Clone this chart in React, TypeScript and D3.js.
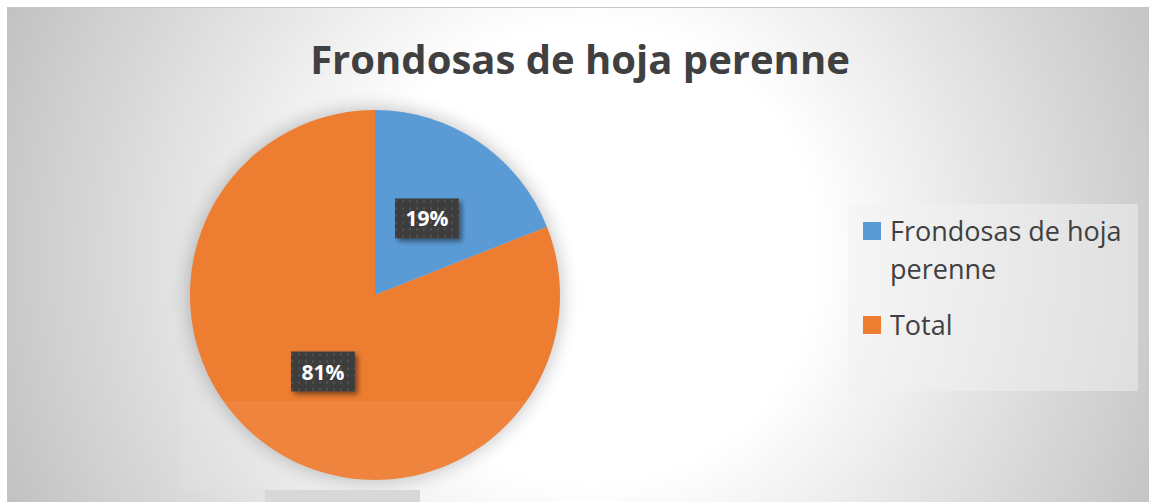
import React, { useEffect, useRef } from "react";
import * as d3 from "d3";

// chart data
const categories = ["Frondosas de hoja perenne", "Total"];
const values = [19, 81];
const legendLines = [["Frondosas de hoja", "perenne"], ["Total"]];
const colors = ["#5b9bd5", "#ed7d31"];
const title = "Frondosas de hoja perenne";

const App = () => {
    const svgRef = useRef<SVGSVGElement>(null);
    const width = 1149;
    const height = 502;

    useEffect(() => {
        const svg = d3.select(svgRef.current);
        svg.selectAll("*").remove();

        const defs = svg.append("defs");

        // radial background, white around the middle
        const grad = defs
            .append("radialGradient")
            .attr("id", "bg")
            .attr("gradientUnits", "userSpaceOnUse")
            .attr("cx", 590)
            .attr("cy", 254)
            .attr("r", 650);
        grad.append("stop").attr("offset", "0").attr("stop-color", "#ffffff");
        grad.append("stop").attr("offset", "0.35").attr("stop-color", "#ffffff");
        grad.append("stop").attr("offset", "1").attr("stop-color", "#bfbfbf");

        // soft shadow for the pie
        const blur = defs.append("filter").attr("id", "pieShadow")
            .attr("x", "-30%").attr("y", "-30%").attr("width", "160%").attr("height", "160%");
        blur.append("feGaussianBlur").attr("stdDeviation", 9);

        const lblShadow = defs.append("filter").attr("id", "lblShadow")
            .attr("x", "-30%").attr("y", "-30%").attr("width", "160%").attr("height", "160%");
        lblShadow.append("feDropShadow")
            .attr("dx", 3).attr("dy", 3).attr("stdDeviation", 2.5)
            .attr("flood-color", "#000").attr("flood-opacity", 0.45);

        // dotted texture for the data labels
        const pat = defs.append("pattern").attr("id", "dots")
            .attr("patternUnits", "userSpaceOnUse").attr("width", 7).attr("height", 7);
        pat.append("rect").attr("width", 7).attr("height", 7).attr("fill", "#3d3d3d");
        pat.append("rect").attr("x", 3).attr("y", 3).attr("width", 2).attr("height", 2).attr("fill", "#535353");

        // chart area
        svg.append("rect")
            .attr("x", 7.5).attr("y", 7.5)
            .attr("width", width).attr("height", height)
            .attr("fill", "url(#bg)")
            .attr("stroke", "#c4c4c4");

        // title
        svg.append("text")
            .attr("x", 580).attr("y", 74)
            .attr("text-anchor", "middle")
            .style("font-family", "'Open Sans', sans-serif")
            .style("font-weight", 700)
            .style("font-size", "40px")
            .style("fill", "#404040")
            .text(title);

        // pie
        const cx = 375, cy = 295, radius = 185;
        const pie = d3.pie<number>().sort(null)(values);
        const arc = d3.arc<d3.PieArcDatum<number>>().innerRadius(0).outerRadius(radius);

        const g = svg.append("g").attr("transform", `translate(${cx},${cy})`);

        g.append("circle")
            .attr("r", radius + 2)
            .attr("fill", "#000")
            .attr("opacity", 0.22)
            .attr("filter", "url(#pieShadow)");

        g.selectAll("path.slice")
            .data(pie)
            .enter()
            .append("path")
            .attr("class", "slice")
            .attr("d", arc)
            .attr("fill", (d, i) => colors[i]);

        // lighter band over the lower part (as in the source)
        svg.append("rect")
            .attr("x", 180).attr("y", 401).attr("width", 420).attr("height", 89)
            .attr("fill", "#fff").attr("opacity", 0.06);
        svg.append("rect")
            .attr("x", 265).attr("y", 490).attr("width", 155).attr("height", 12)
            .attr("fill", "#d8d8d8");

        // data labels
        const labels = g.selectAll("g.lbl")
            .data(pie)
            .enter()
            .append("g")
            .attr("class", "lbl")
            .attr("transform", (d) => {
                const [x, y] = arc.centroid(d);
                return `translate(${x},${y})`;
            });

        labels.append("rect")
            .attr("x", -32).attr("y", -20)
            .attr("width", 64).attr("height", 40)
            .attr("fill", "url(#dots)")
            .attr("filter", "url(#lblShadow)");

        labels.append("text")
            .attr("text-anchor", "middle")
            .attr("y", 8)
            .style("font-family", "'Open Sans', sans-serif")
            .style("font-weight", 700)
            .style("font-size", "21px")
            .style("fill", "#ffffff")
            .text((d) => `${d.data}%`);

        // legend
        svg.append("rect")
            .attr("x", 848).attr("y", 204)
            .attr("width", 290).attr("height", 187)
            .attr("fill", "#f2f2f2").attr("opacity", 0.5);

        const rowY = [222, 316];
        const leg = svg.selectAll("g.leg")
            .data(categories)
            .enter()
            .append("g")
            .attr("class", "leg")
            .attr("transform", (d, i) => `translate(863,${rowY[i]})`);

        leg.append("rect")
            .attr("width", 18).attr("height", 18)
            .attr("fill", (d, i) => colors[i]);

        leg.each(function (d, i) {
            const t = d3.select(this).append("text")
                .style("font-family", "'Open Sans', sans-serif")
                .style("font-size", "27px")
                .style("fill", "#404040");
            legendLines[i].forEach((line, j) => {
                t.append("tspan").attr("x", 27).attr("y", 19 + j * 38).text(line);
            });
        });
    }, []);

    return (
        <svg
            ref={svgRef}
            width={width}
            height={height}
            style={{ position: "absolute", left: 0, top: 0 }}
        />
    );
};

export default App;
